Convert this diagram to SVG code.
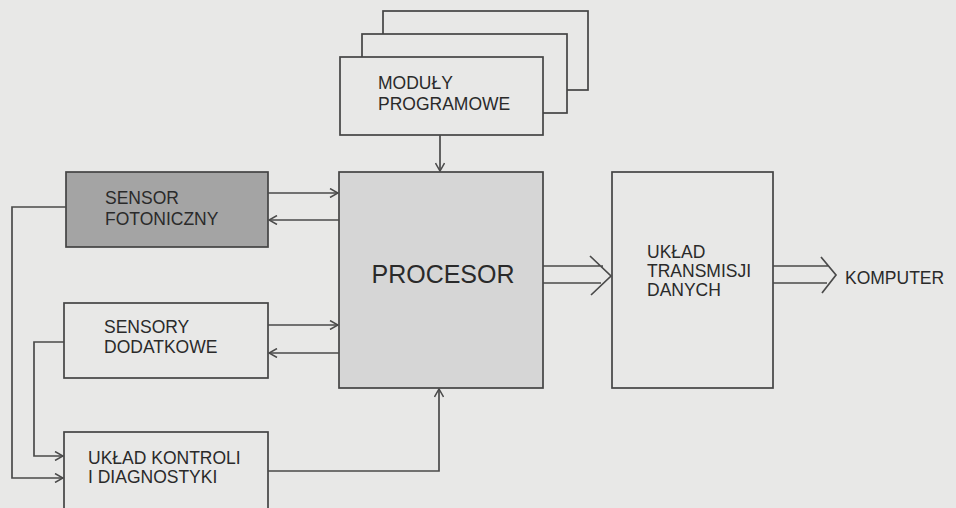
<svg xmlns="http://www.w3.org/2000/svg" width="956" height="508" viewBox="0 0 956 508">
<style>
.box{stroke:#444;stroke-width:1.7;}
.bg{fill:#e8e8e7;}
.line{fill:none;stroke:#4a4a4a;stroke-width:1.7;}
.t{font-family:"Liberation Sans",Arial,sans-serif;font-size:17.5px;fill:#2a2a2a;}
.big{font-size:25px;}
</style>
<defs>
<marker id="ah" viewBox="0 0 10 10" refX="9" refY="5" markerWidth="10" markerHeight="10" markerUnits="userSpaceOnUse" orient="auto">
<path d="M1,0.5 L9,5 L1,9.5" fill="none" stroke="#4a4a4a" stroke-width="1.5"/>
</marker>
</defs>
<rect width="956" height="508" fill="#e8e8e7"/>
<g id="moduly">
<rect class="box bg" x="383" y="11" width="205" height="79"/>
<rect class="box bg" x="362" y="34" width="205" height="79"/>
<rect class="box bg" x="340" y="57" width="203" height="78"/>
<text class="t" x="378" y="89">MODUŁY</text>
<text class="t" x="378" y="110">PROGRAMOWE</text>
</g>
<g id="sensor-fotoniczny">
<rect class="box" x="66" y="172" width="202" height="75" fill="#a4a4a4"/>
<text class="t" x="105" y="204">SENSOR</text>
<text class="t" x="105" y="225">FOTONICZNY</text>
</g>
<g id="procesor">
<rect class="box" x="339" y="172" width="204" height="216" fill="#d6d6d6"/>
<text class="t big" x="443" y="283" text-anchor="middle">PROCESOR</text>
</g>
<g id="uklad-transmisji">
<rect class="box bg" x="612" y="172" width="161" height="216"/>
<text class="t" x="647" y="258">UKŁAD</text>
<text class="t" x="647" y="277">TRANSMISJI</text>
<text class="t" x="647" y="296">DANYCH</text>
</g>
<g id="komputer">
<text class="t" x="845" y="284">KOMPUTER</text>
</g>
<g id="sensory-dodatkowe">
<rect class="box bg" x="64" y="303" width="204" height="75"/>
<text class="t" x="104" y="333">SENSORY</text>
<text class="t" x="104" y="353">DODATKOWE</text>
</g>
<g id="uklad-kontroli">
<rect class="box bg" x="64" y="432" width="204" height="90"/>
<text class="t" x="88" y="464">UKŁAD KONTROLI</text>
<text class="t" x="88" y="483">I DIAGNOSTYKI</text>
</g>
<g id="connectors">
<path class="line" d="M440,135 V171" marker-end="url(#ah)"/>
<path class="line" d="M268,193 H338" marker-end="url(#ah)"/>
<path class="line" d="M339,220 H269" marker-end="url(#ah)"/>
<path class="line" d="M268,325 H338" marker-end="url(#ah)"/>
<path class="line" d="M339,353 H269" marker-end="url(#ah)"/>
<path class="line" d="M268,471 H439 V389" marker-end="url(#ah)"/>
<path class="line" d="M66,207 H12 V478 H63" marker-end="url(#ah)"/>
<path class="line" d="M64,342 H34 V456 H63" marker-end="url(#ah)"/>
<path class="line" d="M543,266 H603 M543,283 H601 M590,256 L611,276 L591,295"/>
<path class="line" d="M773,266 H829 M773,283 H827 M821,257 L836,275 L822,293"/>
</g>
</svg>
